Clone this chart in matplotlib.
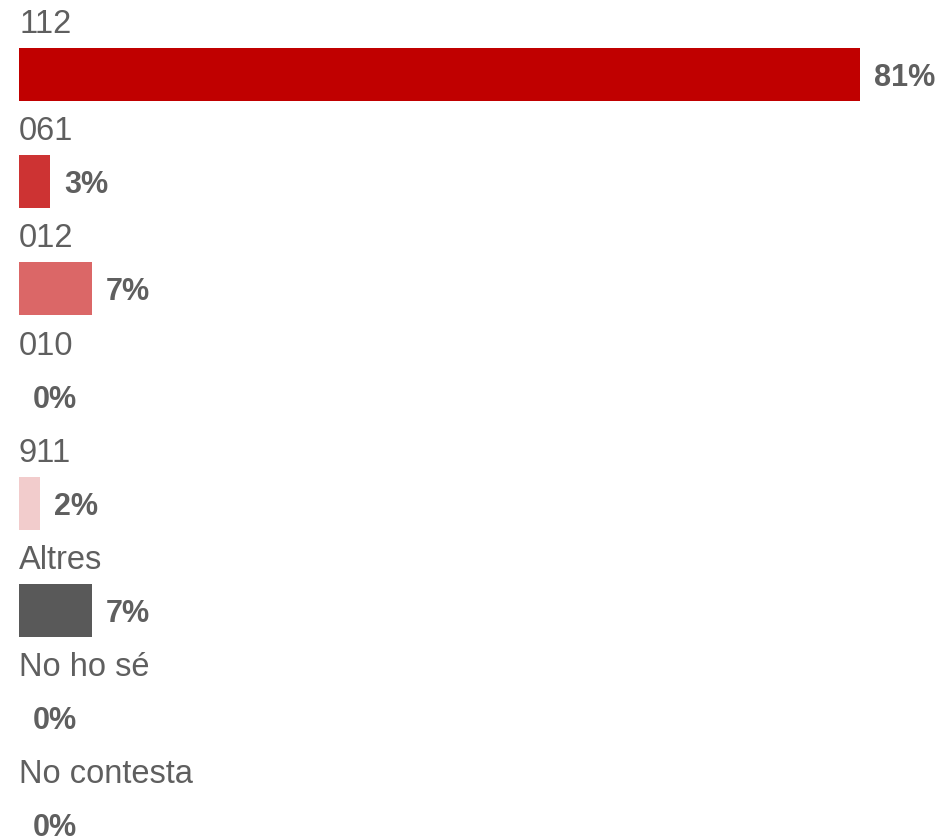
import matplotlib
matplotlib.use("Agg")
import matplotlib.pyplot as plt

categories = ["112", "061", "012", "010", "911", "Altres", "No ho sé", "No contesta"]
values = [81, 3, 7, 0, 2, 7, 0, 0]
value_labels = ["81%", "3%", "7%", "0%", "2%", "7%", "0%", "0%"]
colors = ["#C00000", "#CD3333", "#DB6767", "#E39999", "#F2CCCC", "#595959", "#595959", "#595959"]

plt.rcParams["font.family"] = ["Liberation Sans", "DejaVu Sans"]
text_color = "#5F5F5F"

W, H, DPI = 946, 840, 100
fig = plt.figure(figsize=(W / DPI, H / DPI), dpi=DPI)

# axes fills the whole figure; x scale: 81% spans 841 px from x=19
left_px = 19
px_per_pct = 841 / 81
ax = fig.add_axes([left_px / W, 0, 1 - left_px / W, 1])
ax.set_xlim(0, (W - left_px) / px_per_pct)

row_px = 107.2
first_center = 74.5
ax.set_ylim((H - first_center) / row_px, -first_center / row_px)

ypos = list(range(len(categories)))
ax.barh(ypos, values, height=53 / row_px, color=colors, align="center")

for i, (cat, v, lab) in enumerate(zip(categories, values, value_labels)):
    ax.annotate(cat, (0, i), xytext=(0, 41.5 * 72 / DPI), textcoords="offset points",
                ha="left", va="baseline", fontsize=23.5, color=text_color)
    ax.annotate(lab, (v, i), xytext=(10, -2.5), textcoords="offset points",
                ha="left", va="center", fontsize=22, fontweight="bold", color=text_color)

ax.axis("off")
fig.savefig("out.png", dpi=DPI)
